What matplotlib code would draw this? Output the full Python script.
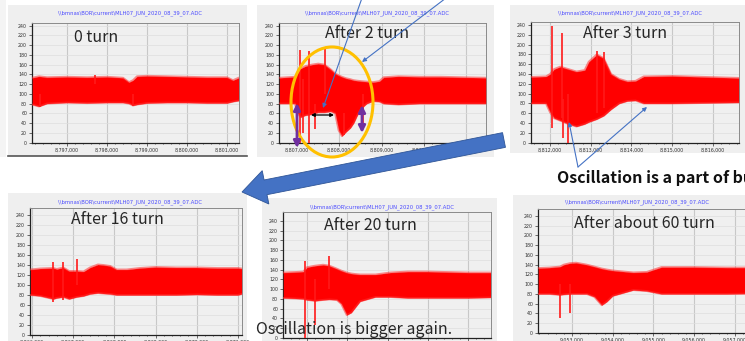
import matplotlib
matplotlib.use("Agg")
import matplotlib.pyplot as plt
from matplotlib.patches import Rectangle, Ellipse, FancyArrow
from matplotlib.ticker import FuncFormatter, MultipleLocator

W, H = 745, 341
FILE_TITLE = r"\\bmnas\BOR\current\MLH07_JUN_2020_08_39_07.ADC"

# ---- signal envelopes (ADC counts) per capture, read as upper/lower band ----
p1_x = [8796130, 8796300, 8796500, 8797000, 8797500, 8798000, 8798400, 8798550,
        8798650, 8798750, 8799000, 8799500, 8800000, 8800500, 8801000, 8801150, 8801290]
p1_hi = [133, 136, 134, 135, 134, 135, 133, 124, 128, 136, 137, 136, 135, 134, 134, 128, 133]
p1_lo = [78, 74, 80, 82, 81, 82, 82, 80, 76, 78, 81, 82, 82, 81, 81, 84, 86]
p1_spikes = [(8796320, 72, 100), (8798640, 75, 100), (8797700, 120, 139)]

p2_x = [8806580, 8806950, 8807000, 8807080, 8807200, 8807350, 8807500, 8807650, 8807800,
        8807900, 8807984, 8808063, 8808160, 8808262, 8808340, 8808420, 8808520, 8808650,
        8808800, 8808950, 8809050, 8809400, 8809900, 8810400, 8810900, 8811470]
p2_hi = [133, 135, 142, 152, 157, 160, 162, 160, 150, 142, 138, 135, 132, 130, 128, 127,
         126, 125, 124, 126, 134, 136, 135, 135, 134, 133]
p2_lo = [80, 80, 62, 52, 56, 58, 62, 62, 64, 60, 25, 13, 22, 30, 40, 55, 70, 80, 85, 84,
         80, 78, 80, 80, 80, 80]
p2_spikes = [(8807060, 0, 190), (8807290, 0, 187), (8807650, 100, 195), (8807430, 28, 80),
             (8807150, 20, 130), (8808120, 15, 60), (8808560, 30, 100)]

p3_x = [8811540, 8811900, 8812000, 8812100, 8812250, 8812450, 8812650, 8812850, 8812950,
        8813150, 8813320, 8813500, 8813700, 8813900, 8814100, 8814300, 8815000, 8815800, 8816630]
p3_hi = [134, 135, 140, 150, 155, 150, 145, 148, 165, 180, 172, 140, 130, 125, 126, 135, 136, 134, 132]
p3_lo = [80, 80, 62, 50, 45, 38, 33, 38, 42, 48, 55, 68, 80, 85, 86, 80, 80, 81, 82]
p3_spikes = [(8812060, 30, 237), (8812290, 50, 224), (8812450, 0, 100),
             (8812330, 10, 90), (8813330, 70, 184), (8813150, 60, 186)]

p4_x = [8865960, 8866200, 8866518, 8866600, 8866760, 8866900, 8867084, 8867250, 8867408,
        8867600, 8867731, 8867900, 8868055, 8868300, 8868621, 8869000, 8869500, 8870000,
        8870500, 8871000, 8871090]
p4_hi = [131, 133, 134, 132, 135, 128, 128, 127, 135, 141, 140, 138, 131, 131, 134, 136,
         135, 135, 134, 134, 133]
p4_lo = [80, 78, 72, 74, 76, 72, 76, 78, 82, 84, 83, 82, 80, 80, 80, 80, 80, 81, 80, 80, 82]
p4_spikes = [(8866518, 67, 147), (8866760, 70, 147), (8867084, 100, 153)]

p5_x = [8882410, 8882700, 8882908, 8883000, 8883199, 8883400, 8883555, 8883738, 8883850,
        8883987, 8884100, 8884194, 8884318, 8884700, 8885065, 8885500, 8886000, 8886500,
        8887000, 8887560]
p5_hi = [134, 135, 136, 145, 148, 150, 148, 142, 138, 134, 132, 131, 130, 130, 134, 136,
         136, 135, 134, 134]
p5_lo = [82, 81, 80, 78, 76, 78, 79, 78, 70, 47, 52, 62, 75, 84, 84, 82, 82, 82, 82, 83]
p5_spikes = [(8882950, 0, 158), (8883199, 27, 120), (8883555, 100, 168)]

p6_x = [9052170, 9052450, 9052705, 9052800, 9052951, 9053100, 9053361, 9053550, 9053730,
        9053852, 9054000, 9054507, 9054835, 9055200, 9056000, 9056800, 9057620]
p6_hi = [133, 134, 136, 140, 143, 144, 140, 136, 132, 130, 128, 124, 125, 135, 135, 134, 134]
p6_lo = [80, 80, 78, 79, 80, 80, 80, 74, 57, 64, 76, 88, 86, 80, 80, 80, 81]
p6_spikes = [(9052705, 30, 100), (9052951, 40, 100)]

labels = ["0 turn", "After 2 turn", "After 3 turn",
          "After 16 turn", "After 20 turn", "After about 60 turn"]
first_ticks = [8797000, 8807000, 8812000, 8866000, 8883000, 9053000]

# ---- layout in pixels: panel background, axes box, x-limits, y-limits ----
panels = [
    dict(bg=(8, 5, 247, 156), ax=(32, 23, 239, 143), xlim=(8796125, 8801300),
         ylim=(-1, 245.5), title=(130, 13), label=(74, 37), xlabels=True),
    dict(bg=(257, 5, 494, 157), ax=(279, 23, 486, 143), xlim=(8806571, 8811476),
         ylim=(-1, 245.5), title=(377, 13), label=(325, 33), xlabels=True),
    dict(bg=(510, 5, 745, 153), ax=(531, 22, 739, 143), xlim=(8811533, 8816640),
         ylim=(-0.6, 246), title=(630, 13), label=(583, 33), xlabels=True),
    dict(bg=(8, 193, 247, 341), ax=(30, 208, 242, 335), xlim=(8865950, 8871100),
         ylim=(0, 254), title=(130, 202), label=(71, 219), xlabels=True),
    dict(bg=(262, 198, 497, 341), ax=(283, 212, 491, 338), xlim=(8882403, 8887572),
         ylim=(0, 258), title=(382, 207), label=(324, 225), xlabels=False),
    dict(bg=(513, 195, 745, 341), ax=(538, 209, 760, 333), xlim=(9052165, 9057619),
         ylim=(0, 254), title=(637, 202), label=(574, 223), xlabels=True),
]
series = [
    (p1_x, p1_hi, p1_lo, p1_spikes),
    (p2_x, p2_hi, p2_lo, p2_spikes),
    (p3_x, p3_hi, p3_lo, p3_spikes),
    (p4_x, p4_hi, p4_lo, p4_spikes),
    (p5_x, p5_hi, p5_lo, p5_spikes),
    (p6_x, p6_hi, p6_lo, p6_spikes),
]

LABEL_FONT = ["Noto Sans CJK JP", "DejaVu Sans"]


def px_rect(x0, y0, x1, y1):
    return [x0 / W, 1 - y1 / H, (x1 - x0) / W, (y1 - y0) / H]


fig = plt.figure(figsize=(W / 100, H / 100), dpi=100)
fig.patch.set_facecolor("white")

# background layer in pixel coordinates
bg = fig.add_axes([0, 0, 1, 1], zorder=0)
bg.set_xlim(0, W)
bg.set_ylim(H, 0)
bg.axis("off")
bg.add_patch(Rectangle((0, 0), 6, 157, color="#f4f4f4", lw=0))
for p in panels:
    x0, y0, x1, y1 = p["bg"]
    bg.add_patch(Rectangle((x0, y0), x1 - x0, y1 - y0, color="#efefef", lw=0))
bg.plot([8, 247], [156, 156], color="#555555", lw=1.2)

fmt = FuncFormatter(lambda v, _: f"{int(v):,}")

for p, (xs, hi, lo, spikes), t0 in zip(panels, series, first_ticks):
    ax = fig.add_axes(px_rect(*p["ax"]), zorder=1)
    ax.set_facecolor("#f0f0f0")
    ax.fill_between(xs, lo, hi, color="#ff0000", lw=0, zorder=3)
    # soft fringe along the band edges
    ax.plot(xs, hi, color="#ff3030", lw=1.4, alpha=0.55, zorder=3)
    ax.plot(xs, lo, color="#ff3030", lw=1.4, alpha=0.55, zorder=3)
    if spikes:
        ax.vlines([s[0] for s in spikes], [s[1] for s in spikes], [s[2] for s in spikes],
                  color="#ff1a1a", lw=1.2, zorder=3)
    ax.set_xticks([t0 + k * 1000 for k in range(6)])
    ax.xaxis.set_major_formatter(fmt)
    ax.xaxis.set_minor_locator(MultipleLocator(200))
    ax.yaxis.set_major_locator(MultipleLocator(20))
    ax.set_xlim(*p["xlim"])
    ax.set_ylim(*p["ylim"])
    ax.grid(axis="x", which="major", color="#c8c8c8", lw=0.8)
    ax.grid(axis="y", which="major", color="#dedede", lw=0.5)
    ax.set_axisbelow(True)
    ax.tick_params(labelsize=3.4, length=2, width=0.5, pad=1.5, colors="#333333")
    ax.tick_params(which="minor", length=1, width=0.4)
    if not p["xlabels"]:
        ax.tick_params(axis="x", labelbottom=False)
    for side in ("left", "bottom"):
        ax.spines[side].set_color("#222222")
        ax.spines[side].set_linewidth(0.9)
    for side in ("top", "right"):
        ax.spines[side].set_color("#8a8a8a")
        ax.spines[side].set_linewidth(0.7)

    tx, ty = p["title"]
    bg.text(tx, ty, FILE_TITLE, fontsize=3.8, color="#4a4aff",
            ha="center", va="center")

# annotation layer on top of everything
ov = fig.add_axes([0, 0, 1, 1], zorder=10)
ov.set_xlim(0, W)
ov.set_ylim(H, 0)
ov.axis("off")
ov.patch.set_alpha(0)

for p, lab in zip(panels, labels):
    lx, ly = p["label"]
    ov.text(lx, ly, lab, fontsize=11.5, color="#262626", ha="left", va="center",
            family=LABEL_FONT)

ov.text(256, 329, "Oscillation is bigger again.", fontsize=11.5, color="#262626",
        ha="left", va="center", family=LABEL_FONT)
ov.text(557, 178, "Oscillation is a part of bunch", fontsize=11.5, color="#111111",
        ha="left", va="center", family=LABEL_FONT, fontweight="bold")

# orange ring around the disturbance
ov.add_patch(Ellipse((332, 102), 82, 110, fill=False, ec="#FFC000", lw=2.2))

# thin pointer arrows
blue = "#4472C4"
pointer = dict(arrowstyle="-|>", color=blue, lw=0.8, mutation_scale=6,
               shrinkA=0, shrinkB=0)
ov.annotate("", xy=(323, 108), xytext=(362, -2), arrowprops=pointer)
ov.annotate("", xy=(362, 62), xytext=(446, -2), arrowprops=pointer)
ov.annotate("", xy=(569, 122), xytext=(578, 167), arrowprops=pointer)
ov.annotate("", xy=(647, 107), xytext=(578, 167), arrowprops=pointer)

# amplitude and width markers
purple = dict(arrowstyle="<|-|>", color="#7030A0", lw=2, mutation_scale=10,
              shrinkA=0, shrinkB=0)
ov.annotate("", xy=(297, 103), xytext=(297, 148), arrowprops=purple)
ov.annotate("", xy=(362, 105), xytext=(362, 133), arrowprops=purple)
ov.annotate("", xy=(311, 115), xytext=(334, 115),
            arrowprops=dict(arrowstyle="<|-|>", color="black", lw=0.9,
                            mutation_scale=5, shrinkA=0, shrinkB=0))

# big block arrow leading to the next row
ov.add_patch(FancyArrow(504, 140, -262, 52, width=15, head_width=34, head_length=24,
                        length_includes_head=True, fc=blue, ec="#2F5597", lw=0.6))

fig.savefig("out.png", dpi=100)
